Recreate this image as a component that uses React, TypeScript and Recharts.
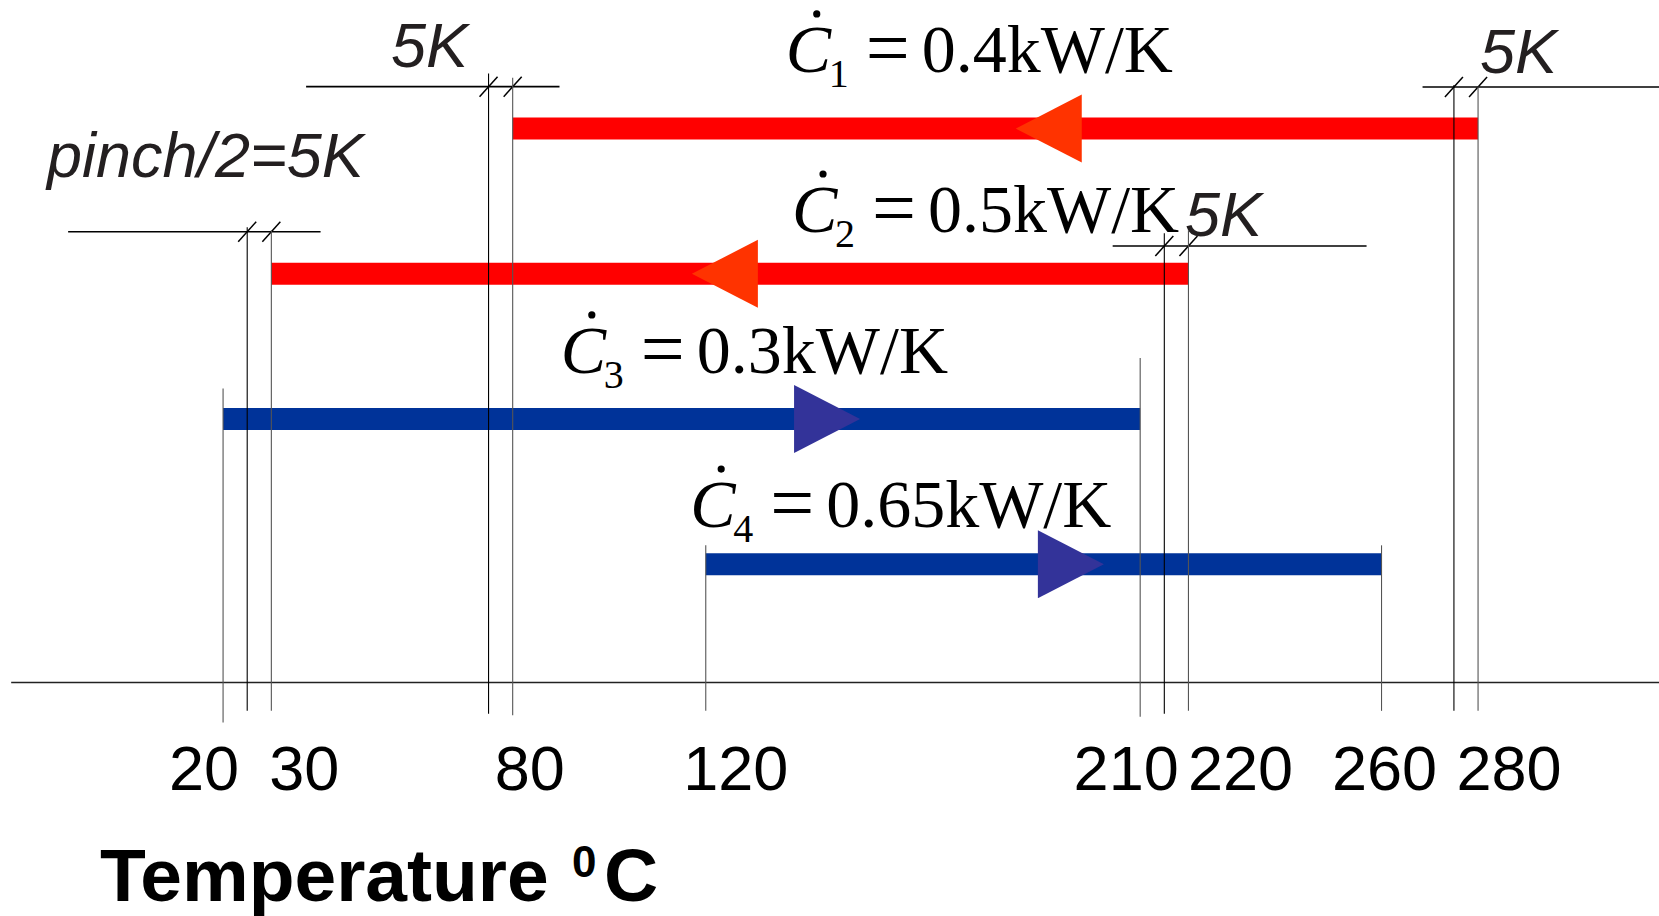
import React from 'react';
import {
  ComposedChart,
  Line,
  Scatter,
  XAxis,
  YAxis,
  ReferenceLine,
  ReferenceDot,
  Customized,
} from 'recharts';

// ---------- data ----------
const streamRows = [1, 2, 3, 4];
const streamSupply = [280, 220, 20, 120];
const streamTarget = [80, 30, 210, 260];
const streamHot = [true, true, false, false];
const streamSub = ['1', '2', '3', '4'];
const streamCp = ['0.4', '0.5', '0.3', '0.65'];

// arrow heads (temperature of the arrow base)
const arrowBase = [197.9, 130.8, 138.3, 188.8];

// label anchors (temperature, row of baseline)
const labelT = [137.4, 138.7, 90.8, 117.6];
const labelRow = [0.61, 1.712, 2.683, 3.744];

// vertical guide lines
const guideT = [20, 25, 30, 75, 80, 120, 210, 215, 220, 260, 275, 280];
const guideTop = [2.79, 1.68, 1.7, 0.62, 0.65, 3.87, 2.58, 1.72, 1.7, 3.87, 0.7, 0.71];
const guideBottom = [5.09, 5.01, 5.01, 5.03, 5.04, 5.01, 5.05, 5.03, 5.01, 5.01, 5.01, 5.01];
const guideShifted = [false, true, false, true, false, false, false, true, false, false, true, false];

// dimension lines for the 5K shifts
const dimRow = [0.711, 1.71, 1.809, 0.714];
const dimFrom = [37.2, -12.1, 204.3, 268.5];
const dimTo = [89.7, 40.2, 256.9, 317.5];
const dimHatchA = [75, 25, 215, 275];
const dimHatchB = [80, 30, 220, 280];

// notes
const noteText = ['5K', 'pinch/2=5K', '5K', '5K'];
const noteT = [54.8, -16.5, 280.4, 219.3];
const noteRow = [0.576, 1.333, 0.617, 1.74];

// temperature axis
const axisTicks = [20, 30, 80, 120, 210, 220, 260, 280];
const axisRow = 4.815;
const axisFrom = -23.9;
const axisTo = 317.5;

// ---------- styles ----------
const W = 1659;
const H = 916;
const HOT = '#ff0000';
const HOT_ARROW = '#ff3300';
const COLD = '#003399';
const COLD_ARROW = '#333399';
const ARROW_W = 66;
const ARROW_H = 68;
const TICK_NUDGE: Record<number, number> = { 20: -19, 30: 33, 80: 17, 120: 30, 210: -14, 220: 52, 260: 3, 280: 31 };
const SANS = '"Liberation Sans", Arial, Helvetica, sans-serif';
const SERIF = '"Liberation Serif", "Times New Roman", serif';

const renderTick = (props: any) => {
  const { x, y, payload } = props;
  const v = payload.value;
  return (
    <text x={x + (TICK_NUDGE[v] || 0)} y={y + 8} textAnchor="middle" fontFamily={SANS} fontSize={63} fill="#000">
      {v}
    </text>
  );
};

const makeArrow = (hot: boolean, color: string) => (props: any) => {
  const { cx, cy } = props;
  const h = ARROW_H / 2;
  const pts = hot
    ? `${cx - ARROW_W},${cy} ${cx},${cy - h} ${cx},${cy + h}`
    : `${cx},${cy - h} ${cx},${cy + h} ${cx + ARROW_W},${cy}`;
  return <polygon points={pts} fill={color} stroke="none" />;
};

const makeHatch = () => (props: any) => {
  const { cx, cy } = props;
  return <line x1={cx - 9} y1={cy + 10} x2={cx + 9} y2={cy - 10} stroke="#000" strokeWidth={1.5} />;
};

const makeNote = (txt: string) => (props: any) => {
  const { cx, cy } = props;
  return (
    <text x={cx} y={cy} fontFamily={SANS} fontStyle="italic" fontSize={63} fill="#231f20">
      {txt}
    </text>
  );
};

const makeMath = (sub: string, cp: string) => (props: any) => {
  const { cx, cy } = props;
  return (
    <g>
      <circle cx={cx + 27} cy={cy - 58} r={3.6} fill="#000" />
      <text x={cx - 4} y={cy} fontFamily={SERIF} fontStyle="italic" fontSize={68} fill="#000">C</text>
      <text x={cx + 39} y={cy + 15} fontFamily={SERIF} fontSize={40} fill="#000">{sub}</text>
      <text x={cx + 76} y={cy + 2} fontFamily={SERIF} fontSize={78} fill="#000">=</text>
      <text x={cx + 132} y={cy} fontFamily={SERIF} fontSize={68} fill="#000">{cp}kW/K</text>
    </g>
  );
};

const Title = () => (
  <text y={901} fontFamily={SANS} fontWeight="bold" fill="#000">
    <tspan x={100} fontSize={75}>Temperature</tspan>
    <tspan x={572} y={877} fontSize={44}>0</tspan>
    <tspan x={604} y={901} fontSize={75}>C</tspan>
  </text>
);

export default function App() {
  return (
    <div style={{ position: 'absolute', left: 0, top: 0, width: W, height: H, overflow: 'hidden', background: '#fff' }}>
      <ComposedChart width={W} height={H} margin={{ top: 56, right: 12, bottom: 104, left: 30 }}>
        <XAxis
          dataKey="t"
          type="number"
          domain={[-20, 315]}
          ticks={axisTicks}
          interval={0}
          axisLine={false}
          tickLine={false}
          tickSize={0}
          tickMargin={0}
          height={30}
          tick={renderTick}
          allowDataOverflow
        />
        <YAxis type="number" domain={[0.5, 5.5]} reversed hide width={0} allowDataOverflow />

        {streamRows.map((r, i) => (
          <Line
            key={'s' + i}
            data={[
              { t: streamSupply[i], row: r },
              { t: streamTarget[i], row: r },
            ]}
            dataKey="row"
            type="linear"
            stroke={streamHot[i] ? HOT : COLD}
            strokeWidth={22}
            dot={false}
            activeDot={false}
            isAnimationActive={false}
          />
        ))}

        {streamRows.map((r, i) => (
          <Scatter
            key={'a' + i}
            data={[{ t: arrowBase[i], row: r }]}
            dataKey="row"
            shape={makeArrow(streamHot[i], streamHot[i] ? HOT_ARROW : COLD_ARROW)}
            isAnimationActive={false}
          />
        ))}

        <ReferenceLine
          segment={[
            { x: axisFrom, y: axisRow },
            { x: axisTo, y: axisRow },
          ]}
          stroke="#222"
          strokeWidth={1.5}
          ifOverflow="visible"
        />

        {guideT.map((t, i) => (
          <ReferenceLine
            key={'g' + i}
            segment={[
              { x: t, y: guideTop[i] },
              { x: t, y: guideBottom[i] },
            ]}
            stroke={guideShifted[i] ? '#000' : '#555'}
            strokeWidth={1.1}
            ifOverflow="visible"
            zIndex={700}
          />
        ))}

        {dimRow.map((r, i) => (
          <ReferenceLine
            key={'d' + i}
            segment={[
              { x: dimFrom[i], y: r },
              { x: dimTo[i], y: r },
            ]}
            stroke="#000"
            strokeWidth={1.6}
            ifOverflow="visible"
          />
        ))}

        {dimRow.map((r, i) => (
          <ReferenceDot key={'ha' + i} x={dimHatchA[i]} y={r} r={1} ifOverflow="visible" shape={makeHatch()} />
        ))}
        {dimRow.map((r, i) => (
          <ReferenceDot key={'hb' + i} x={dimHatchB[i]} y={r} r={1} ifOverflow="visible" shape={makeHatch()} />
        ))}

        {noteText.map((txt, i) => (
          <ReferenceDot key={'n' + i} x={noteT[i]} y={noteRow[i]} r={1} ifOverflow="visible" shape={makeNote(txt)} />
        ))}

        {streamRows.map((r, i) => (
          <ReferenceDot
            key={'m' + i}
            x={labelT[i]}
            y={labelRow[i]}
            r={1}
            ifOverflow="visible"
            shape={makeMath(streamSub[i], streamCp[i])}
          />
        ))}

        <Customized component={Title} />
      </ComposedChart>
    </div>
  );
}
